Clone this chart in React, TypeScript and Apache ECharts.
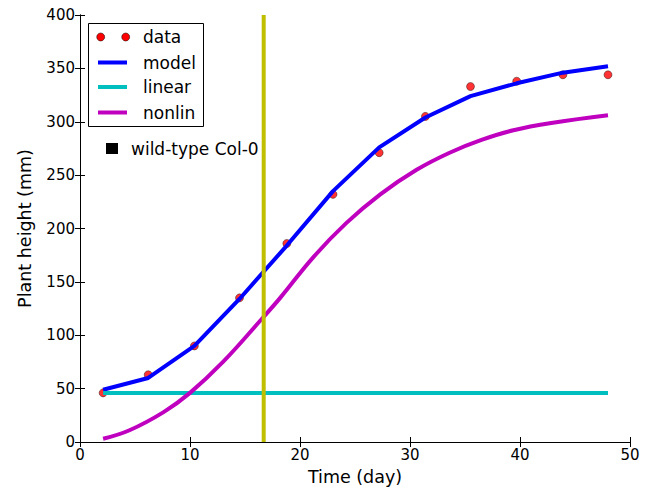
import React, { useEffect, useRef } from "react";
import * as echarts from "echarts";

const times = [2.1, 6.2, 10.4, 14.5, 18.8, 23.0, 27.2, 31.4, 35.5, 39.7, 43.9, 48.0];
const heights = [46, 63, 90, 135, 186, 232, 271, 305, 333, 338, 344, 344];
const modelValues = [49, 60, 90, 134, 184, 235, 276, 304, 324, 336, 346, 352];
const linearValue = 46;
const nonlinTimes = [2.1, 4.5, 7.6, 10, 13, 16.5, 18.2, 21.2, 24.2, 27.3, 30.6, 33.6, 36.5, 39.4, 43, 48];
const nonlinValues = [3, 11, 28, 46, 75, 115, 135, 173, 205, 232, 255, 271, 283, 292, 299, 306];
const vlineDay = 16.7;
const xTicks = { min: 0, max: 50, interval: 10 };
const yTicks = { min: 0, max: 400, interval: 50 };
const legendNames = ["data", "model", "linear", "nonlin"];
const annotation = "wild-type Col-0";

const FONT = "DejaVu Sans";

export default function App() {
  const ref = useRef<HTMLDivElement>(null);
  useEffect(() => {
    if (!ref.current) return;
    const chart = echarts.init(ref.current, null, { renderer: "svg" });
    const axisCommon = {
      axisLine: { show: true, lineStyle: { color: "#000", width: 1 } },
      axisTick: { show: true, inside: true, length: 5, lineStyle: { color: "#000", width: 1 } },
      splitLine: { show: false },
    };
    const legendY = [37, 62.5, 87, 112.5];
    const colors = ["#ff0000", "#0000ff", "#00bfbf", "#bf00bf"];
    const legendChildren: any[] = [
      { type: "rect", shape: { x: 88.5, y: 23.5, width: 115, height: 103 }, style: { fill: "#fff", stroke: "#000", lineWidth: 1 } },
    ];
    legendNames.forEach((n, i) => {
      if (i === 0) {
        legendChildren.push({ type: "circle", shape: { cx: 100.7, cy: legendY[i], r: 4 }, style: { fill: "#ff0000", stroke: "#000", lineWidth: 0.5 } });
        legendChildren.push({ type: "circle", shape: { cx: 125.7, cy: legendY[i], r: 4 }, style: { fill: "#ff0000", stroke: "#000", lineWidth: 0.5 } });
      } else {
        legendChildren.push({ type: "line", shape: { x1: 98, y1: legendY[i], x2: 127, y2: legendY[i] }, style: { stroke: colors[i], lineWidth: 4 } });
      }
      legendChildren.push({
        type: "text",
        x: 143,
        y: legendY[i],
        style: { text: n, fill: "#000", font: `17px '${FONT}'`, verticalAlign: "middle" },
      });
    });
    legendChildren.push({ type: "rect", shape: { x: 106, y: 143, width: 12, height: 11 }, style: { fill: "#000" } });
    legendChildren.push({
      type: "text",
      x: 131,
      y: 148.5,
      style: { text: annotation, fill: "#000", font: `17px '${FONT}'`, verticalAlign: "middle" },
    });

    chart.setOption({
      animation: false,
      backgroundColor: "#fff",
      textStyle: { fontFamily: FONT },
      grid: { left: 80, right: 16, top: 15, bottom: 48, containLabel: false },
      xAxis: [
        {
          type: "value",
          ...xTicks,
          ...axisCommon,
          position: "bottom",
          axisLabel: { color: "#000", fontSize: 15, margin: 5, fontFamily: FONT },
          name: "Time (day)",
          nameLocation: "middle",
          nameGap: 26,
          nameTextStyle: { color: "#000", fontSize: 17.5, fontFamily: FONT },
        },
        { type: "value", ...xTicks, ...axisCommon, position: "top", axisLabel: { show: false } },
      ],
      yAxis: [
        {
          type: "value",
          ...yTicks,
          ...axisCommon,
          position: "left",
          axisLabel: { color: "#000", fontSize: 15, margin: 5, fontFamily: FONT },
          name: "Plant height (mm)",
          nameLocation: "middle",
          nameGap: 46,
          nameTextStyle: { color: "#000", fontSize: 17.5, fontFamily: FONT },
        },
        { type: "value", ...yTicks, ...axisCommon, position: "right", axisLabel: { show: false } },
      ],
      series: [
        {
          name: "data",
          type: "scatter",
          data: times.map((t, i) => [t, heights[i]]),
          symbol: "circle",
          symbolSize: 8,
          itemStyle: { color: "#ff0000", borderColor: "#000", borderWidth: 0.5 },
          z: 2,
        },
        {
          name: "model",
          type: "line",
          data: times.map((t, i) => [t, modelValues[i]]),
          showSymbol: false,
          symbol: "none",
          lineStyle: { color: "#0000ff", width: 4 },
          z: 3,
        },
        {
          name: "linear",
          type: "line",
          data: [[times[0], linearValue], [times[times.length - 1], linearValue]],
          symbol: "none",
          lineStyle: { color: "#00bfbf", width: 4 },
          z: 4,
        },
        {
          name: "nonlin",
          type: "line",
          data: nonlinTimes.map((t, i) => [t, nonlinValues[i]]),
          symbol: "none",
          smooth: 0.4,
          lineStyle: { color: "#bf00bf", width: 4 },
          z: 5,
        },
        {
          name: "vline",
          type: "line",
          data: [[vlineDay, yTicks.min], [vlineDay, yTicks.max]],
          symbol: "none",
          lineStyle: { color: "#bfbf00", width: 4 },
          z: 6,
        },
      ],
      graphic: [{ type: "group", z: 100, children: legendChildren }],
    });
    return () => chart.dispose();
  }, []);
  return <div ref={ref} style={{ position: "fixed", left: 0, top: 0, width: 646, height: 491 }} />;
}
